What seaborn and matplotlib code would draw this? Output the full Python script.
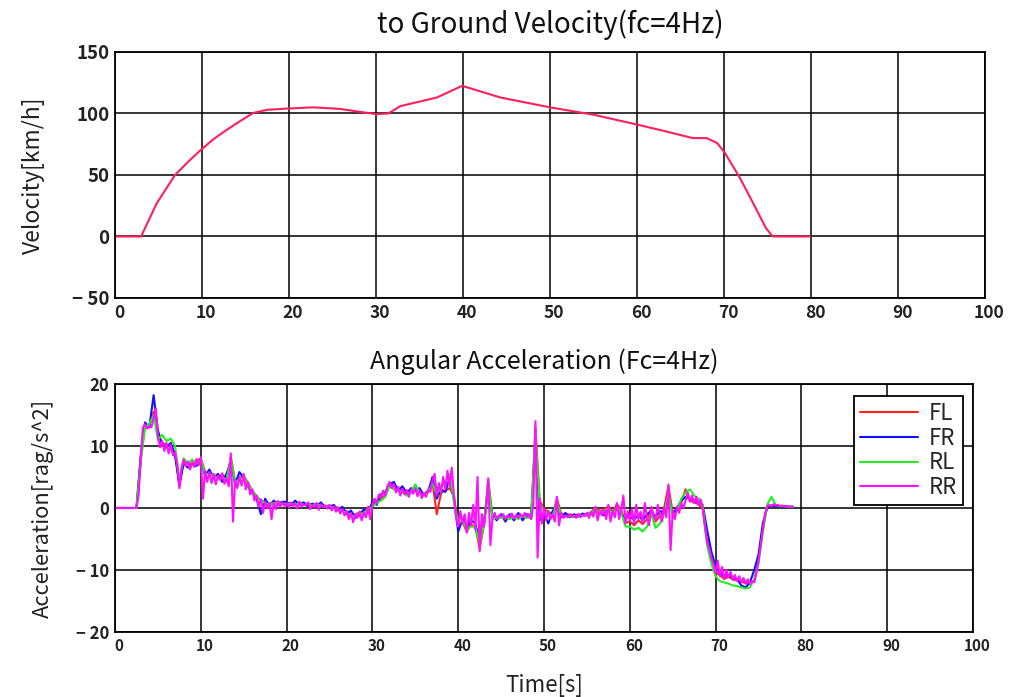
import numpy as np
import pandas as pd
import matplotlib
matplotlib.use("Agg")
import matplotlib.pyplot as plt
import matplotlib.transforms as mtransforms
from matplotlib.lines import Line2D
import seaborn as sns

# ---------------- data ----------------
# Top: ground velocity
vel_t = [0, 3.0, 4.8, 6.9, 8.3, 9.8, 11.3, 12.7, 14.2, 15.9, 17.5, 19.8, 22.8, 25.9, 28.0, 30.0, 31.4,
         32.8, 37.0, 39.9, 44.3, 50.0, 55.0, 60.0, 63.0, 66.4, 68.0, 69.2, 70.1, 71.8,
         73.5, 74.8, 75.6, 79.9]
vel_v = [0, 0, 27, 50, 60, 70, 79, 86, 93, 100.5, 103, 104, 105, 103.7, 101.5, 99.5, 100,
         106, 113, 122.5, 113, 105, 99, 91, 86, 80, 80, 76, 68, 48,
         25, 7, 0, 0]

# Bottom: angular acceleration, RR sampled every 0.25 s (0..79 s)
rr_t = np.linspace(0, 79, 317)
rr = [
    0, 0, 0, 0, 0, 0, 0, 0, 0, 0, 0, 2, 8, 13, 13.5, 12.8, 13.2, 13.0, 14.5, 16.0,
    11.5, 9.8, 10.8, 9.2, 10.5, 8.8, 10.2, 8.5, 9.0, 7.2, 3.2, 6.5, 7.8, 6.8, 7.5, 6.2, 7.4, 6.6, 7.9, 6.9,
    8.2, 1.5, 6.0, 4.2, 5.8, 4.0, 5.5, 3.8, 5.2, 4.5, 5.6, 3.9, 4.8, 3.5, 8.8, -2.2, 4.5, 3.2, 5.0, 3.6,
    5.5, 3.0, 4.2, 2.2, 3.0, 1.2, 2.0, 0.2, 1.4, -0.8, 1.0, 0.0, 0.8, -1.8, 0.9, -0.2, 1.1, 0.2, 0.9, 0.3,
    0.8, 0.1, 0.9, 0.3, 0.7, -0.1, 1.0, 0.2, 0.6, 0.4, 0.9, -0.2, 0.5, 0.1, 0.8, -0.3, 0.6, 0.2, 0.4, -0.1,
    0.5, -0.4, 0.3, -0.6, 0.1, -0.9, -0.2, -1.2, -0.5, -1.8, -0.8, -2.3, -1.0, -1.6, -0.6, -2.0, -0.7, -1.5, 0.2, -1.8,
    0.5, 1.5, 0.8, 2.2, 1.6, 2.8, 2.0, 3.5, 4.2, 3.2, 3.8, 2.5, 3.4, 2.0, 3.1, 2.2, 2.9, 1.8, 3.0, 2.3,
    3.2, 1.9, 2.8, 1.6, 2.4, 1.8, 3.0, 2.6, 4.5, 5.5, 2.0, 4.0, 2.5, 5.0, 3.0, 6.0, 3.5, 6.5, 2.0, -1.5,
    -3.0, -0.5, -2.5, -1.0, -4.0, -0.8, -2.8, 0.5, -3.5, 5.0, -7.0, -1.0, -3.0, 0.0, 4.8, -6.0, -1.5, -0.8, -1.8, -1.2,
    -1.4, -1.0, -1.8, -1.2, -1.5, -0.9, -1.7, -1.1, -1.6, -1.0, -1.5, -0.8, -1.4, -1.0, -1.8, 0.5, 14.0, -8.0, 1.5, -2.5,
    0.0, -2.0, -0.5, -1.8, -1.0, -2.2, 1.8, -2.8, -0.8, -1.6, -1.2, -1.5, -1.1, -1.4, -1.2, -1.6, -1.0, -1.5, -1.1, -1.3,
    -0.8, -1.6, -0.6, -1.4, 0.2, -2.0, -0.4, -1.2, -0.2, -1.8, 0.5, -2.2, -0.5, -1.5, 0.8, -1.8, -0.3, 2.0, -2.5, -0.5,
    -2.0, -0.2, -2.5, 0.5, -1.8, -0.6, -2.4, 0.8, -1.5, -2.8, 0.2, -1.2, -2.0, 0.5, -1.0, -2.2, 0.2, -1.5, 3.8, -6.8,
    -0.5, -1.8, 0.2, -0.8, 0.8, 0.0, 1.2, 2.5, 1.0, 2.0, 0.8, 1.8, 0.5, 1.4, -0.2, -3.0, -5.5, -6.5, -8.0, -9.0,
    -10.5, -8.5, -11.0, -9.5, -11.5, -10.0, -11.2, -10.3, -11.6, -10.8, -11.8, -11.0, -12.0, -11.3, -12.2, -11.5, -12.3, -11.8, -12.0, -10.5,
    -8.5, -6.0, -3.5, -1.0, 0.2, 0.5, 0.3, 0.6, 0.4, 0.5, 0.3, 0.4, 0.3, 0.3, 0.2, 0.2, 0.2,
]

# FL, FR, RL sampled every 0.5 s (0..79 s)
half_t = np.linspace(0, 79, 159)
fl = [
    0, 0, 0, 0, 0, 0, 7.8, 13.4, 13.1, 15.5,
    11.8, 10.5, 10.2, 10.0, 8.8, 3.5, 7.5, 7.2, 7.1, 7.5,
    8.0, 5.8, 5.5, 5.3, 5.0, 5.4, 4.6, 8.2, 4.3, 4.8,
    5.2, 4.0, 2.8, 1.9, 1.2, 0.9, 0.7, 0.8, 1.0, 0.8,
    0.7, 0.8, 0.6, 0.9, 0.5, 0.8, 0.4, 0.7, 0.5, 0.3,
    0.4, 0.2, 0.0, -0.3, -0.6, -0.9, -1.1, -0.7, -0.6, 0.0,
    0.4, 0.9, 1.5, 2.1, 4.0, 3.6, 3.2, 2.9, 2.7, 2.8,
    3.0, 2.6, 2.2, 2.8, 4.2, -1.0, 2.4, 2.8, 3.2, 1.8,
    -2.8, -2.3, -3.8, -2.6, -3.2, -6.5, -2.8, 4.5, -1.4, -1.7,
    -1.3, -1.7, -1.4, -1.6, -1.5, -1.4, -1.3, -1.7, 13.0, 1.2,
    -0.2, -0.6, -1.1, 1.5, -0.9, -1.2, -1.0, -1.3, -1.0, -1.2,
    -0.9, -0.7, 0.1, -0.5, -0.3, 0.3, -0.6, 0.6, -0.4, -2.4,
    -2.2, -2.8, -2.0, -2.6, -1.8, 0.0, -2.2, -1.3, 0.0, 3.5,
    -0.8, 0.0, 0.9, 3.0, 1.2, 0.9, 0.6, -0.1, -5.2, -7.8,
    -10.3, -10.9, -11.4, -11.1, -11.5, -11.7, -11.9, -12.1, -12.2, -11.8,
    -8.3, -3.3, 0.2, 0.3, 0.4, 0.3, 0.3, 0.2, 0.2,
]
fr = [
    0, 0, 0, 0, 0, 0, 8.5, 13.8, 13.0, 18.2,
    12.5, 10.2, 9.8, 10.5, 8.5, 3.8, 7.2, 6.5, 7.0, 6.8,
    7.5, 5.2, 6.2, 4.8, 5.5, 4.2, 5.5, 7.5, 3.8, 5.8,
    4.8, 3.5, 2.5, 1.5, -1.0, 1.5, 0.2, 1.2, 0.5, 1.0,
    1.0, 0.4, 1.2, 0.5, 0.9, 0.2, 0.7, 0.3, 0.9, 0.1,
    0.2, 0.5, -0.4, 0.2, -1.0, -0.4, -1.6, -1.2, -0.2, -0.8,
    1.0, 0.5, 2.2, 2.6, 3.8, 4.2, 2.8, 3.5, 2.4, 3.2,
    2.8, 3.2, 2.0, 2.6, 5.0, 1.5, 3.0, 2.6, 4.8, 1.5,
    -3.8, -1.8, -3.2, -2.0, -2.5, -5.5, -2.2, 3.0, -1.2, -2.0,
    -1.0, -2.2, -1.0, -2.0, -0.8, -2.0, -1.0, -1.5, 11.0, -2.0,
    -1.0, -2.5, -0.5, 0.5, -1.5, -0.8, -1.5, -1.0, -1.4, -0.9,
    -1.2, -1.0, -0.4, -0.8, -1.2, 0.0, -1.0, 0.2, -1.0, -1.5,
    -1.5, -1.8, -1.2, -2.0, -1.0, -0.5, -1.5, -0.5, -0.8, 2.0,
    -1.0, 0.0, 1.2, 1.8, 1.5, 1.2, 1.0, 0.5, -3.5, -7.0,
    -9.5, -10.5, -11.0, -10.8, -11.2, -11.5, -12.5, -12.8, -12.0, -10.0,
    -7.5, -2.5, 0.0, 0.4, 0.3, 0.3, 0.2, 0.2, 0.2,
]
rl = [
    0, 0, 0, 0, 0, 0, 7.5, 13.0, 13.5, 15.0,
    11.0, 11.8, 10.8, 11.2, 10.0, 4.5, 8.0, 7.2, 7.8, 7.2,
    7.8, 5.5, 5.5, 5.2, 4.8, 5.0, 4.5, 8.0, 4.2, 4.6,
    5.0, 3.8, 2.8, 1.8, 1.2, 0.8, 0.5, 0.8, 0.8, 0.6,
    0.6, 0.7, 0.5, 0.8, 0.4, 0.7, 0.3, 0.6, 0.4, 0.2,
    0.3, 0.0, -0.2, -0.5, -0.8, -1.2, -1.4, -0.9, -0.8, -0.2,
    0.2, 0.8, 1.2, 1.8, 3.5, 3.0, 2.8, 2.5, 2.0, 2.5,
    3.8, 2.4, 2.0, 2.5, 4.0, 2.2, 3.5, 4.2, 5.5, 1.0,
    -2.5, -2.0, -3.5, -3.0, -3.0, -6.0, -2.5, 4.0, -1.8, -1.5,
    -1.6, -1.5, -1.8, -1.4, -1.8, -1.3, -1.6, -1.5, 12.0, 0.5,
    -0.5, -1.0, -1.3, 1.0, -1.2, -1.4, -1.3, -1.5, -1.2, -1.3,
    -1.0, -0.8, -0.2, -0.8, -0.6, 0.0, -1.0, 0.2, -0.8, -3.0,
    -3.0, -3.5, -3.2, -3.8, -3.0, -1.0, -3.2, -2.5, -1.0, 2.5,
    -1.5, -0.5, 1.5, 2.5, 3.0, 2.0, 1.5, 0.5, -6.0, -9.0,
    -11.0, -11.8, -12.0, -12.2, -12.5, -12.6, -12.8, -13.0, -12.8, -11.5,
    -9.0, -4.0, 0.5, 1.8, 0.5, 0.3, 0.3, 0.2, 0.2,
]

series_names = ["FL", "FR", "RL", "RR"]
series_colors = ["#ff2020", "#1010ff", "#22ee22", "#ff10ff"]

x_ticks = list(range(0, 101, 10))
vel_yticks = [-50, 0, 50, 100, 150]
acc_yticks = [-20, -10, 0, 10, 20]

# ---------------- figure ----------------
sns.set_theme(style="white")
plt.rcParams["font.family"] = ["Noto Sans CJK JP", "DejaVu Sans"]
plt.rcParams["axes.unicode_minus"] = False

fig = plt.figure(figsize=(10.25, 6.97), dpi=100)
fig.patch.set_facecolor("white")
ax1 = fig.add_axes([0.1122, 0.5725, 0.8488, 0.3529])
ax2 = fig.add_axes([0.1122, 0.0933, 0.8371, 0.3558])

vel_df = pd.DataFrame({"t": vel_t, "v": vel_v})
sns.lineplot(data=vel_df, x="t", y="v", ax=ax1, color="#ff1f5a", linewidth=1.5,
             estimator=None, sort=False)

frames = []
for name, tt, vv in [("FL", half_t, fl), ("FR", half_t, fr), ("RL", half_t, rl), ("RR", rr_t, rr)]:
    frames.append(pd.DataFrame({"t": tt, "a": vv, "wheel": name}))
acc_df = pd.concat(frames, ignore_index=True)
sns.lineplot(data=acc_df, x="t", y="a", hue="wheel", hue_order=series_names,
             palette=dict(zip(series_names, series_colors)), ax=ax2,
             linewidth=1.5, estimator=None, sort=False, legend=False)


def fmt_minus(v):
    return ("\u2212 " + str(abs(v))) if v < 0 else str(v)


for ax, yt, ylim, fs_tick in [(ax1, vel_yticks, (-50, 150), 12.5), (ax2, acc_yticks, (-20, 20), 11)]:
    ax.set_xlim(0, 100)
    ax.set_ylim(*ylim)
    ax.set_xticks(x_ticks)
    ax.set_yticks(yt)
    ax.set_xticklabels([str(v) for v in x_ticks], fontsize=fs_tick, fontweight="bold", color="#222222")
    ax.set_yticklabels([fmt_minus(v) for v in yt], fontsize=fs_tick + 1, fontweight="bold", color="#222222")
    ax.grid(True, color="black", linewidth=1.1)
    ax.set_axisbelow(True)
    for sp in ax.spines.values():
        sp.set_visible(True)
        sp.set_color("black")
        sp.set_linewidth(1.3)
    ax.tick_params(axis="both", length=0, pad=4)
    offset = mtransforms.ScaledTranslation(4 / 100, 0, fig.dpi_scale_trans)
    for lbl in ax.get_xticklabels():
        lbl.set_transform(lbl.get_transform() + offset)
    ax.set_xlabel("")
    ax.set_ylabel("")

ax1.set_title("to Ground Velocity(fc=4Hz)", fontsize=20, pad=13.5, color="#111111")
ax1.set_ylabel("Velocity[km/h]", fontsize=16.5, color="#222222")
ax1.yaxis.set_label_coords(-0.081, 0.5)
ax2.set_title("Angular Acceleration (Fc=4Hz)", fontsize=18, pad=11, color="#111111")
ax2.set_ylabel("Acceleration[rag/s^2]", fontsize=15.8, color="#222222")
ax2.yaxis.set_label_coords(-0.071, 0.5)
ax2.set_xlabel("Time[s]", fontsize=16, color="#222222")
ax2.xaxis.set_label_coords(0.5, -0.17)

handles = [Line2D([0], [0], color=c, linewidth=1.5) for c in series_colors]
leg = ax2.legend(handles, series_names, loc="upper right", bbox_to_anchor=(0.988, 0.95),
                 fontsize=16, frameon=True, fancybox=False, framealpha=1,
                 edgecolor="black", handlelength=2.6, labelspacing=0.08,
                 borderpad=0.25, handletextpad=0.5, borderaxespad=0)
leg.get_frame().set_linewidth(1.3)

fig.savefig("out.png", dpi=100, facecolor="white")
